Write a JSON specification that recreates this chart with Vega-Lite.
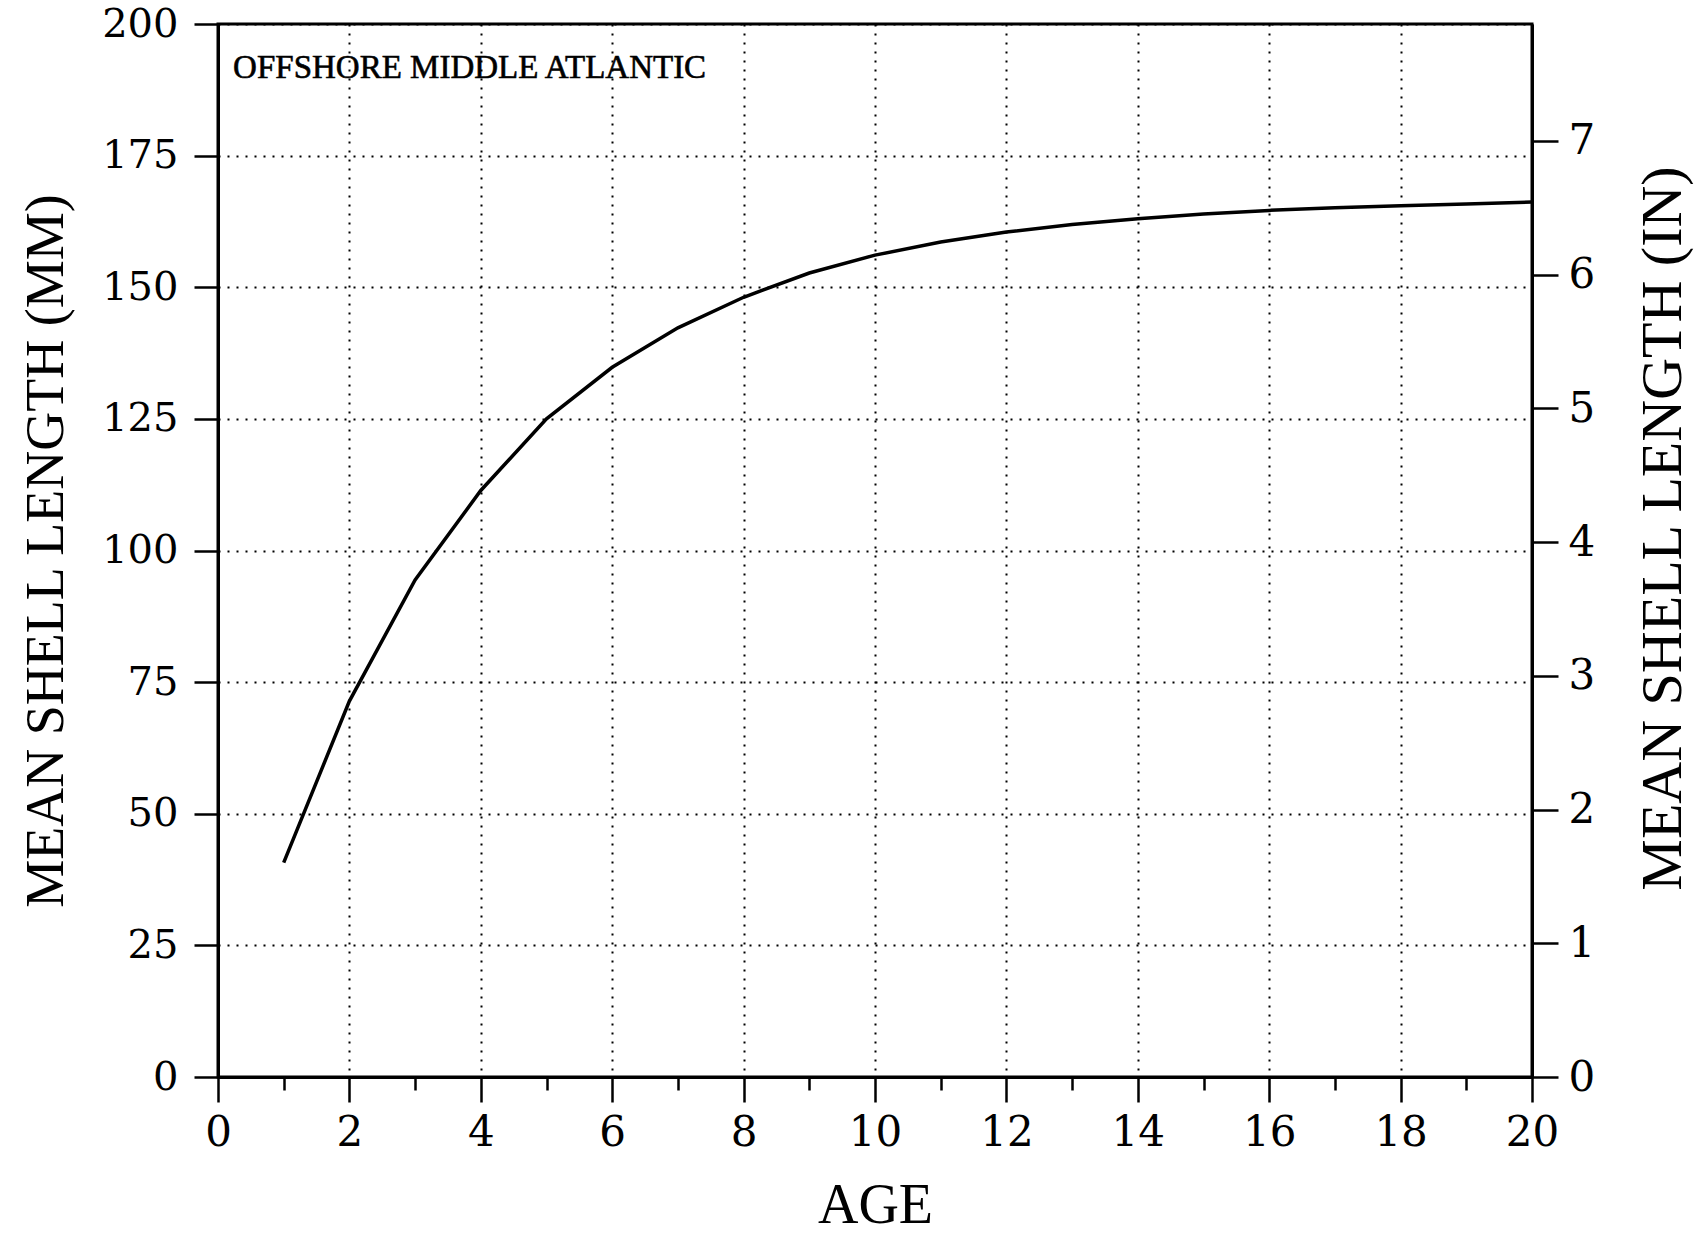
{
  "$schema": "https://vega.github.io/schema/vega-lite/v6.json",
  "width": 1314,
  "height": 1053,
  "autosize": {"type": "none"},
  "padding": {"left": 218, "top": 24, "right": 174, "bottom": 159},
  "background": "white",
  "config": {
    "view": {"stroke": "black", "strokeWidth": 3},
    "axis": {
      "domainColor": "black",
      "domainWidth": 3,
      "tickColor": "black",
      "tickWidth": 2.5,
      "labelColor": "black",
      "titleColor": "black",
      "labelFont": "DejaVu Serif",
      "titleFont": "Liberation Serif",
      "titleFontWeight": "normal",
      "labelOverlap": false,
      "labelFlush": false,
      "gridColor": "black",
      "gridDash": [2, 7],
      "gridWidth": 2,
      "gridOpacity": 1
    }
  },
  "layer": [
    {
      "layer": [
        {
          "data": {
            "values": [
              {"age": 1, "mm": 40.7},
              {"age": 2, "mm": 71.4},
              {"age": 3, "mm": 94.4},
              {"age": 4, "mm": 111.4},
              {"age": 5, "mm": 125.0},
              {"age": 6, "mm": 134.8},
              {"age": 7, "mm": 142.3},
              {"age": 8, "mm": 148.1},
              {"age": 9, "mm": 152.7},
              {"age": 10, "mm": 156.1},
              {"age": 11, "mm": 158.6},
              {"age": 12, "mm": 160.5},
              {"age": 13, "mm": 161.9},
              {"age": 14, "mm": 163.0},
              {"age": 15, "mm": 163.9},
              {"age": 16, "mm": 164.6},
              {"age": 17, "mm": 165.1},
              {"age": 18, "mm": 165.5},
              {"age": 19, "mm": 165.8},
              {"age": 20, "mm": 166.2}
            ]
          },
          "mark": {"type": "line", "color": "black", "strokeWidth": 3.5},
          "encoding": {
            "x": {
              "field": "age",
              "type": "quantitative",
              "scale": {"domain": [0, 20], "nice": false},
              "axis": {
                "values": [0,1,2,3,4,5,6,7,8,9,10,11,12,13,14,15,16,17,18,19,20],
                "format": "d",
                "title": "AGE",
                "labelExpr": "datum.value % 2 ? '' : datum.label",
                "tickSize": {"condition": {"test": "datum.value % 2 === 1", "value": 13}, "value": 25},
                "gridOpacity": {"condition": {"test": "datum.value % 2 === 1", "value": 0}, "value": 1},
                "grid": true,
                "labelFontSize": 42,
                "labelPadding": 10,
                "titleFontSize": 56,
                "titlePadding": 25
              }
            },
            "y": {
              "field": "mm",
              "type": "quantitative",
              "scale": {"domain": [0, 200], "nice": false},
              "axis": {
                "values": [0, 25, 50, 75, 100, 125, 150, 175, 200],
                "title": "MEAN SHELL LENGTH (MM)",
                "grid": true,
                "tickSize": 24,
                "labelFontSize": 40,
                "labelPadding": 16,
                "titleFontSize": 54,
                "titlePadding": 28
              }
            }
          }
        },
        {
          "data": {"values": [{"label": "OFFSHORE MIDDLE ATLANTIC", "age": 0.23, "mm": 189.7}]},
          "mark": {"type": "text", "align": "left", "baseline": "alphabetic", "font": "Liberation Serif", "fontSize": 33, "color": "black", "stroke": "black", "strokeWidth": 0.6},
          "encoding": {
            "x": {"field": "age", "type": "quantitative"},
            "y": {"field": "mm", "type": "quantitative"},
            "text": {"field": "label"}
          }
        }
      ]
    },
    {
      "data": {"values": [{"inch": 0}]},
      "mark": {"type": "point", "opacity": 0},
      "encoding": {
        "y": {
          "field": "inch",
          "type": "quantitative",
          "scale": {"domain": [0, 7.874], "nice": false},
          "axis": {
            "orient": "right",
            "values": [0, 1, 2, 3, 4, 5, 6, 7],
            "format": "d",
            "title": "MEAN SHELL LENGTH (IN)",
            "grid": false,
            "tickSize": 26,
            "labelFontSize": 42,
            "labelPadding": 10,
            "titleFontSize": 58,
            "titlePadding": 40,
            "titleAngle": 270,
            "titleBaseline": "top",
            "titleY": 504
          }
        }
      }
    }
  ],
  "resolve": {"scale": {"y": "independent"}}
}
